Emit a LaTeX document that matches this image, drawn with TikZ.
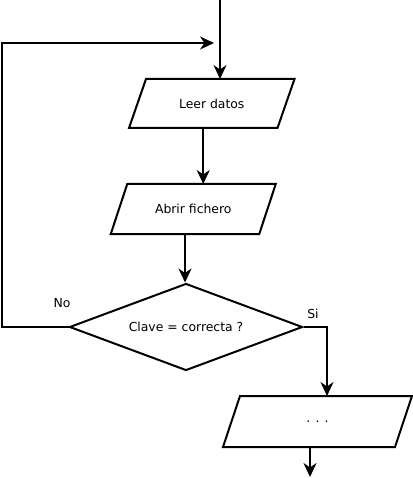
\documentclass[tikz,border=0pt]{standalone}
\usepackage{fontspec}
\setmainfont{DejaVu Sans}
\usetikzlibrary{arrows.meta,shapes.geometric,calc}
\begin{document}
\begin{tikzpicture}[x=1pt,y=-1pt,
  line width=2pt, line join=miter,
  lbl/.style={font=\fontsize{12.4}{14}\selectfont, inner sep=0pt},
  decision/.style={diamond, draw, lbl, aspect=2.678, minimum width=233pt, minimum height=87pt, inner sep=0pt},
  flow/.style={-{Stealth[length=14pt,width=13pt,inset=4.5pt]}}
]
\useasboundingbox (0,0) rectangle (412,478);

% parallelogram helper: name, center x, center y, width, height, skew, text
\newcommand\myparabox[7]{%
  \node[lbl, minimum width=#4pt, minimum height=#5pt] (#1) at (#2,#3) {#7};
  \draw ($(#1.north west)+(#6,0)$) -- ($(#1.north east)+(#6,0)$)
     -- ($(#1.south east)+(-#6,0)$) -- ($(#1.south west)+(-#6,0)$) -- cycle;
}

\myparabox{leer}{211.75}{103.5}{146.5}{47}{8.5}{Leer datos}
\myparabox{abrir}{193.25}{209}{146.5}{48}{8.25}{Abrir fichero}
\myparabox{last}{317.5}{421.5}{170}{49}{8.5}{. . .}
\node[decision] (dia) at (186,327) {Clave = correcta ?};

\coordinate (in) at (220,0);
\coordinate (leerout) at ($(leer.south)+(-8.5,0)$);
\coordinate (abrirout) at ($(abrir.south)+(-8.25,0)$);
\coordinate (loopL) at (1.5,327);
\coordinate (loopT) at (1.5,43);
\coordinate (loopE) at (214,43);
\coordinate (siC) at (327,327);
\coordinate (lastout) at ($(last.south)+(-7.5,0)$);
\coordinate (end) at (310,477);

\draw[flow] (in) -- (in |- leer.north);
\draw[flow] (leerout) -- (leerout |- abrir.north);
\draw[flow] (abrirout) -- (abrirout |- dia.north);
\draw[flow] (dia.west) -- (loopL) -- (loopT) -- (loopE);
\draw[flow] (dia.east) -- (siC) -- (siC |- last.north);
\draw[flow] (lastout) -- (end);

\node[lbl] (no) at (62,303) {No};
\node[lbl] (si) at (313,314) {Si};
\end{tikzpicture}
\end{document}
